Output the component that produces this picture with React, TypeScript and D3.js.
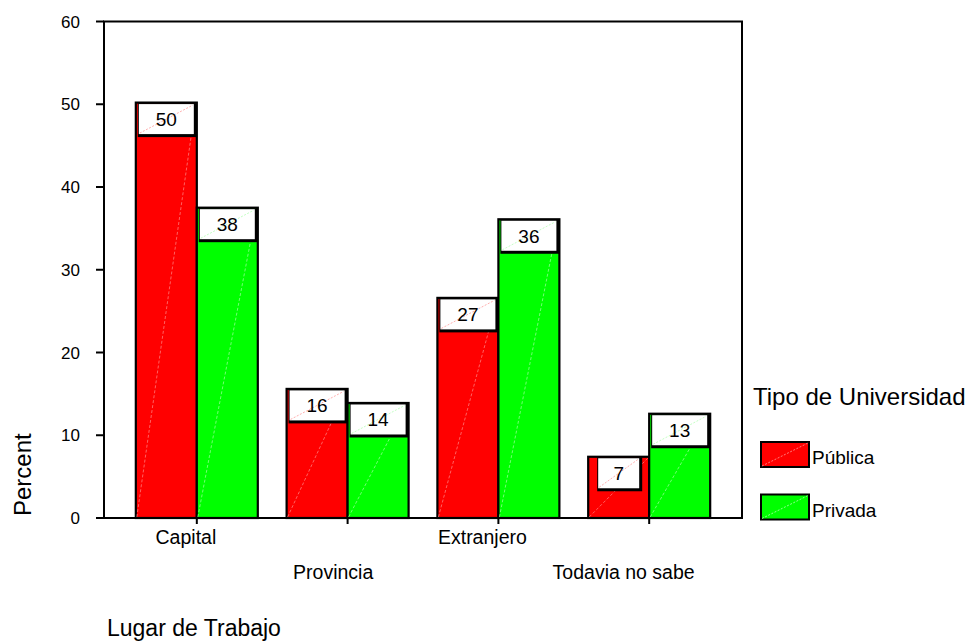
import React, { useEffect, useRef } from "react";
import * as d3 from "d3";

// Lugar de Trabajo by Tipo de Universidad (percent within each type)
const categories = ["Capital", "Provincia", "Extranjero", "Todavia no sabe"];
const seriesNames = ["Pública", "Privada"];
const publica = [50.2, 15.6, 26.6, 7.4];
const privada = [37.5, 13.9, 36.1, 12.6];
const yTicks = [0, 10, 20, 30, 40, 50, 60];

const xTitle = "Lugar de Trabajo";
const yTitle = "Percent";
const legendTitle = "Tipo de Universidad";

const W = 970;
const H = 641;
const FONT = "'Liberation Sans', Arial, Helvetica, sans-serif";
const FILL = ["#ff0000", "#00ff00"];
const STREAK = ["#ff9a9a", "#b4ffb4"];

export default function App() {
  const ref = useRef<SVGSVGElement | null>(null);

  useEffect(() => {
    const svg = d3.select(ref.current);
    svg.selectAll("*").remove();

    const plot = { left: 104, right: 742, top: 21.5, bottom: 518 };

    const x = d3
      .scaleBand<string>()
      .domain(categories)
      .range([plot.left, plot.right])
      .paddingInner(0.191)
      .paddingOuter(0.211);
    const xs = d3
      .scaleBand<string>()
      .domain(seriesNames)
      .range([0, x.bandwidth()]);
    const y = d3.scaleLinear().domain([0, 60]).range([plot.bottom, plot.top]);

    const series = [publica, privada];

    // frame
    svg
      .append("rect")
      .attr("x", plot.left)
      .attr("y", plot.top)
      .attr("width", plot.right - plot.left)
      .attr("height", plot.bottom - plot.top)
      .attr("fill", "none")
      .attr("stroke", "#000")
      .attr("stroke-width", 2);

    // y axis ticks and labels
    const yg = svg.append("g");
    yTicks.forEach((t) => {
      yg.append("line")
        .attr("x1", plot.left - 8)
        .attr("x2", plot.left)
        .attr("y1", y(t))
        .attr("y2", y(t))
        .attr("stroke", "#000")
        .attr("stroke-width", 2);
      yg.append("text")
        .attr("x", 80)
        .attr("y", y(t))
        .attr("dy", "0.36em")
        .attr("text-anchor", "end")
        .attr("font-family", FONT)
        .attr("font-size", 17)
        .text(d3.format("d")(t));
    });

    // bars
    const bars = svg.append("g");
    categories.forEach((c, ci) => {
      seriesNames.forEach((s, si) => {
        const v = series[si][ci];
        const bx = (x(c) as number) + (xs(s) as number);
        const bw = xs.bandwidth();
        const top = y(v);
        const bottom = y(0);
        bars
          .append("rect")
          .attr("x", bx)
          .attr("y", top)
          .attr("width", bw)
          .attr("height", bottom - top)
          .attr("fill", FILL[si])
          .attr("stroke", "#000")
          .attr("stroke-width", 2.2);
        bars
          .append("line")
          .attr("x1", bx + 1)
          .attr("y1", bottom - 1)
          .attr("x2", bx + bw - 1)
          .attr("y2", top + 1)
          .attr("stroke", STREAK[si])
          .attr("stroke-width", 0.8)
          .attr("stroke-dasharray", "3,2")
          .attr("opacity", 0.8);
      });
    });

    // value labels in boxed callouts
    const labels = svg.append("g");
    categories.forEach((c, ci) => {
      seriesNames.forEach((s, si) => {
        const v = series[si][ci];
        const txt = String(Math.round(v));
        const cx = (x(c) as number) + (xs(s) as number) + xs.bandwidth() / 2;
        const top = y(v);
        const bw = 14 * txt.length + 27;
        const bh = 30;
        const bx = cx - bw / 2;
        const by = top + 1.5;
        labels
          .append("rect")
          .attr("x", bx - 1)
          .attr("y", by - 1)
          .attr("width", bw + 4)
          .attr("height", bh + 4)
          .attr("fill", "#000");
        labels
          .append("rect")
          .attr("x", bx)
          .attr("y", by)
          .attr("width", bw)
          .attr("height", bh)
          .attr("fill", "#fff");
        labels
          .append("line")
          .attr("x1", bx + 1)
          .attr("y1", by + bh - 1)
          .attr("x2", bx + bw - 1)
          .attr("y2", by + 1)
          .attr("stroke", STREAK[si])
          .attr("stroke-width", 0.8)
          .attr("stroke-dasharray", "2,1.5");
        labels
          .append("text")
          .attr("x", cx)
          .attr("y", by + bh / 2)
          .attr("dy", "0.36em")
          .attr("text-anchor", "middle")
          .attr("font-family", FONT)
          .attr("font-size", 19)
          .text(txt);
      });
    });

    // x axis ticks and staggered category labels
    const xg = svg.append("g");
    categories.forEach((c, ci) => {
      const cx = (x(c) as number) + x.bandwidth() / 2;
      xg.append("line")
        .attr("x1", cx)
        .attr("x2", cx)
        .attr("y1", plot.bottom)
        .attr("y2", plot.bottom + 6)
        .attr("stroke", "#000")
        .attr("stroke-width", 2);
      const t = xg
        .append("text")
        .attr("y", ci % 2 === 0 ? 543.5 : 578.5)
        .attr("font-family", FONT)
        .attr("font-size", 19.5)
        .text(c);
      const w = (t.node() as SVGTextElement).getComputedTextLength();
      t.attr("x", cx - 0.68 * w);
    });

    // axis titles
    svg
      .append("text")
      .attr("x", 107)
      .attr("y", 636)
      .attr("font-family", FONT)
      .attr("font-size", 23)
      .text(xTitle);
    svg
      .append("text")
      .attr("transform", `translate(31,${plot.bottom - 2}) rotate(-90)`)
      .attr("font-family", FONT)
      .attr("font-size", 24)
      .text(yTitle);

    // legend
    const lg = svg.append("g");
    lg.append("text")
      .attr("x", 753)
      .attr("y", 405)
      .attr("font-family", FONT)
      .attr("font-size", 24)
      .text(legendTitle);
    seriesNames.forEach((s, si) => {
      const ly = 442 + si * 52.5;
      lg.append("rect")
        .attr("x", 761)
        .attr("y", ly)
        .attr("width", 48)
        .attr("height", 25)
        .attr("fill", FILL[si])
        .attr("stroke", "#000")
        .attr("stroke-width", 2);
      lg.append("line")
        .attr("x1", 762)
        .attr("y1", ly + 24)
        .attr("x2", 808)
        .attr("y2", ly + 1)
        .attr("stroke", STREAK[si])
        .attr("stroke-width", 0.8)
        .attr("stroke-dasharray", "2,1.5");
      lg.append("text")
        .attr("x", 812)
        .attr("y", ly + 22)
        .attr("font-family", FONT)
        .attr("font-size", 19)
        .text(s);
    });
  }, []);

  return (
    <svg
      ref={ref}
      width={W}
      height={H}
      style={{ position: "absolute", left: 0, top: 0, background: "#fff" }}
    />
  );
}
